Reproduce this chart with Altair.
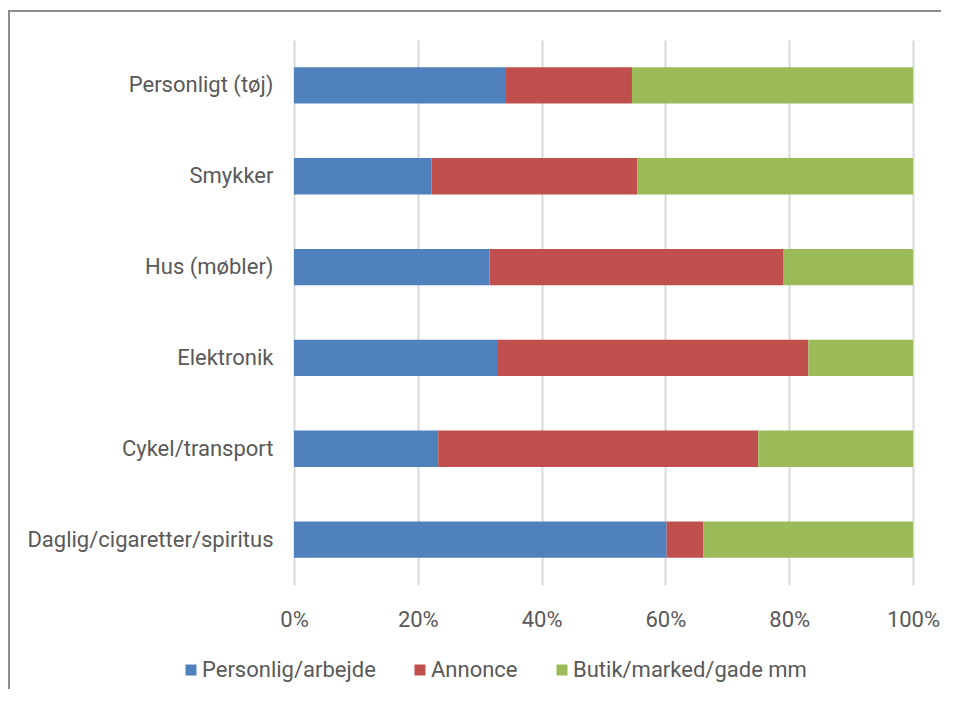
import altair as alt
import pandas as pd

categories = ["Personligt (tøj)", "Smykker", "Hus (møbler)", "Elektronik",
              "Cykel/transport", "Daglig/cigaretter/spiritus"]
series = ["Personlig/arbejde", "Annonce", "Butik/marked/gade mm"]
personlig = [0.341, 0.222, 0.316, 0.328, 0.233, 0.602]
annonce = [0.205, 0.333, 0.474, 0.503, 0.517, 0.059]
butik = [0.454, 0.445, 0.210, 0.169, 0.250, 0.339]
colors = ["#4F81BD", "#C0504D", "#9BBB59"]
tick_values = [0, 0.2, 0.4, 0.6, 0.8, 1.0]

rows = []
for i, c in enumerate(categories):
    for j, (s, vals) in enumerate(zip(series, [personlig, annonce, butik])):
        rows.append({"cat": c, "series": s, "value": vals[i], "ord": j})
df = pd.DataFrame(rows)

FONT = "Roboto"
FS = 22
LABEL = "#595959"

bars = alt.Chart(df).mark_bar().encode(
    y=alt.Y("cat:N", sort=categories, title=None,
            scale=alt.Scale(paddingInner=0.6, paddingOuter=0.3),
            axis=alt.Axis(domain=False, ticks=False, grid=False, labelFont=FONT,
                          labelFontSize=FS, labelColor=LABEL, labelPadding=21,
                          labelLimit=400)),
    x=alt.X("value:Q", stack="zero", title=None,
            scale=alt.Scale(domain=[0, 1], nice=False),
            axis=alt.Axis(values=tick_values, format=".0%", domain=False, ticks=False,
                          grid=True, gridColor="#d9d9d9", gridWidth=2,
                          labelFlush=False,
                          labelFont=FONT, labelFontSize=FS, labelColor=LABEL,
                          labelPadding=24)),
    color=alt.Color("series:N", sort=series,
                    scale=alt.Scale(domain=series, range=colors),
                    legend=alt.Legend(title=None, orient="none", direction="horizontal",
                                      legendX=-114, legendY=619, symbolType="square",
                                      symbolSize=121, symbolStrokeWidth=0,
                                      labelFont=FONT, labelFontSize=FS,
                                      labelColor=LABEL, labelOffset=0,
                                      labelLimit=400, columnPadding=33)),
    order=alt.Order("ord:Q"),
)

frame_src = alt.Data(values=[{"a": 1}])
top_line = alt.Chart(frame_src).mark_rule(stroke="#8c8c8c", strokeWidth=2).encode(
    x=alt.value(-285), x2=alt.value(647), y=alt.value(-29)
)
left_line = alt.Chart(frame_src).mark_rule(stroke="#8c8c8c", strokeWidth=2).encode(
    x=alt.value(-285), y=alt.value(-30), y2=alt.value(655)
)

chart = alt.layer(top_line, left_line, bars).properties(
    width=619, height=545,
    padding={"left": 286, "top": 32, "right": 30, "bottom": 104},
    autosize=alt.AutoSizeParams(type="none"),
    background="white",
).configure_view(stroke=None)

chart.save("out.html", embed_options={"renderer": "svg", "actions": False})
